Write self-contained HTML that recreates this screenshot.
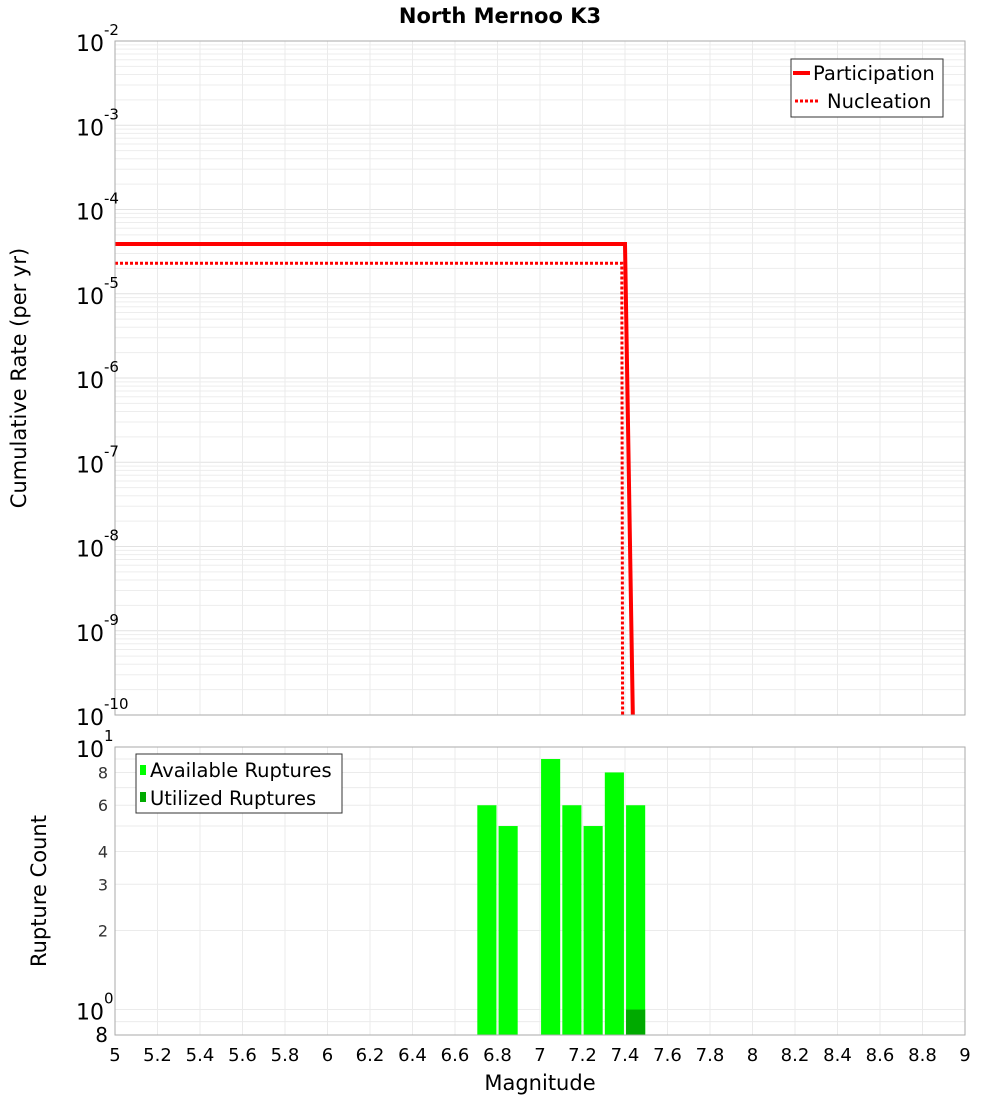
<!DOCTYPE html>
<html><head><meta charset="utf-8"><style>
html,body{margin:0;padding:0;background:#fff;}
svg{display:block;font-family:"DejaVu Sans","Liberation Sans",sans-serif;}
</style></head><body>
<svg id="chart" width="1000" height="1100" xmlns="http://www.w3.org/2000/svg">
<text x="500" y="23" text-anchor="middle" font-size="21" font-weight="bold">North Mernoo K3</text>
<g id="topg"></g>
<g id="botg"></g>
<text transform="translate(26,378) rotate(-90)" text-anchor="middle" font-size="21">Cumulative Rate (per yr)</text>
<text transform="translate(46,891) rotate(-90)" text-anchor="middle" font-size="21">Rupture Count</text>
<text x="540" y="1090" text-anchor="middle" font-size="21">Magnitude</text>
<g id="legends">
<g>
<rect x="791" y="59" width="152" height="58" fill="#fff" stroke="#333" stroke-width="1"/>
<line x1="793" y1="73" x2="810" y2="73" stroke="#f00" stroke-width="4"/>
<text x="813" y="80" font-size="19.5">Participation</text>
<line x1="795" y1="101" x2="820" y2="101" stroke="#f00" stroke-width="3" stroke-dasharray="3,2"/>
<text x="827" y="108" font-size="19.5">Nucleation</text>
</g>
<g>
<rect x="136" y="754" width="206" height="59" fill="#fff" stroke="#333" stroke-width="1"/>
<rect x="140" y="765" width="6" height="10" fill="#00ff00"/>
<text x="150" y="777" font-size="19.5">Available Ruptures</text>
<rect x="140" y="792" width="6" height="10" fill="#00aa00"/>
<text x="150" y="805" font-size="19.5">Utilized Ruptures</text>
</g>
</g>
</svg>
<script>
const mags = [5.0, 7.4, 7.45];
const participation = [3.9e-5, 3.9e-5, 1e-12];
const nucleationMags = [5.0, 7.385, 7.39];
const nucleation = [2.3e-5, 2.3e-5, 1e-12];
const barMags = [6.75, 6.85, 6.95, 7.05, 7.15, 7.25, 7.35, 7.45];
const available = [6, 5, 0, 9, 6, 5, 8, 6];
const utilized = [0, 0, 0, 0, 0, 0, 0, 1];
const xTicks = [5,5.2,5.4,5.6,5.8,6,6.2,6.4,6.6,6.8,7,7.2,7.4,7.6,7.8,8,8.2,8.4,8.6,8.8,9];
const topExps = [-2,-3,-4,-5,-6,-7,-8,-9,-10];
const botTicks = [8,2,3,4,6,8];

const NS="http://www.w3.org/2000/svg";
const X0=115,X1=965;
const xs=m=>X0+(m-5)/4*(X1-X0);
const T0=41,T1=715;
const yT=v=>T0+(-2-Math.log10(v))/8*(T1-T0);
const B0=747,B1=1035;
const yB=v=>B0+(1-Math.log10(v))/(1-Math.log10(0.8))*(B1-B0);
function el(p,tag,a){const e=document.createElementNS(NS,tag);for(const k in a)e.setAttribute(k,a[k]);p.appendChild(e);return e;}
const topG=document.getElementById('topg'),botG=document.getElementById('botg');
const svgEl=document.getElementById('chart');

el(topG,'rect',{x:X0,y:T0,width:X1-X0,height:T1-T0,fill:'#fff'});
for(let e=-10;e<-2;e++){for(let k=1;k<10;k++){const v=k*Math.pow(10,e);const yy=yT(v);
 const g=el(topG,'line',{x1:X0,x2:X1,y1:yy,y2:yy,stroke:k==1?'#e2e2e2':'#ededed','stroke-width':1});
 
 }}
xTicks.forEach(t=>{const g=el(topG,'line',{x1:xs(t),x2:xs(t),y1:T0,y2:T1,stroke:'#ebebeb'});
 
 
 const g2=el(botG,'line',{x1:xs(t),x2:xs(t),y1:B0,y2:B1,stroke:'#ebebeb'});
 
 });
topExps.forEach(e=>{const yy=yT(Math.pow(10,e));
 const t=el(svgEl,'text',{x:104,y:yy+10,'text-anchor':'end','font-size':22});
 t.textContent='10';
 
 
 const s=el(svgEl,'text',{x:104,y:yy-6,'font-size':15});
 s.textContent=String(e);
 
 });

const defs=el(svgEl,'defs',{});
const cp=el(defs,'clipPath',{id:'clipT'});el(cp,'rect',{x:X0,y:T0,width:X1-X0,height:T1-T0});
const pts=(ms,vs)=>ms.map((m,i)=>xs(m)+','+yT(vs[i])).join(' ');
const pl=el(topG,'polyline',{points:pts(mags,participation),fill:'none',stroke:'#f00','stroke-width':4,'clip-path':'url(#clipT)'});


const nl=el(topG,'polyline',{points:pts(nucleationMags,nucleation),fill:'none',stroke:'#f00','stroke-width':3,'stroke-dasharray':'3,2','clip-path':'url(#clipT)'});


el(topG,'rect',{x:X0,y:T0,width:X1-X0,height:T1-T0,fill:'none',stroke:'#aaa'});

[0.8,0.9,1,2,3,4,5,6,7,8,9,10].forEach(v=>{const yy=yB(v);
 const g=el(botG,'line',{x1:X0,x2:X1,y1:yy,y2:yy,stroke:'#ebebeb'});
 
 });
const bw=0.09*(X1-X0)/4;
barMags.forEach((m,i)=>{
 if(available[i]>0){const r=el(botG,'rect',{x:xs(m)-bw/2,y:yB(available[i]),width:bw,height:B1-yB(available[i]),fill:'#00ff00'});
 
 }
 if(utilized[i]>0){const r=el(botG,'rect',{x:xs(m)-bw/2,y:yB(utilized[i]),width:bw,height:B1-yB(utilized[i]),fill:'#00aa00'});
 
 }
});
el(botG,'rect',{x:X0,y:B0,width:X1-X0,height:B1-B0,fill:'none',stroke:'#aaa'});
[[10,'1'],[1,'0']].forEach(([v,e])=>{const yy=yB(v);
 const t=el(svgEl,'text',{x:104,y:yy+10,'text-anchor':'end','font-size':22});t.textContent='10';
 
 
 const s=el(svgEl,'text',{x:104,y:yy-6,'font-size':15});s.textContent=e;
 
 });
botTicks.forEach((v,i)=>{const big=(i==0);const yy=big?yB(0.8):yB(v);
 const t=el(svgEl,'text',{x:108,y:yy+(big?7:6),'text-anchor':'end','font-size':big?20:16,fill:big?'#000':'#333'});
 t.textContent=String(v);
 
 });
xTicks.forEach(t=>{const tx=el(svgEl,'text',{x:xs(t),y:1061,'text-anchor':'middle','font-size':18});
 tx.textContent=String(t);
 
 });
svgEl.appendChild(document.getElementById('legends'));
</script>
</body></html>
